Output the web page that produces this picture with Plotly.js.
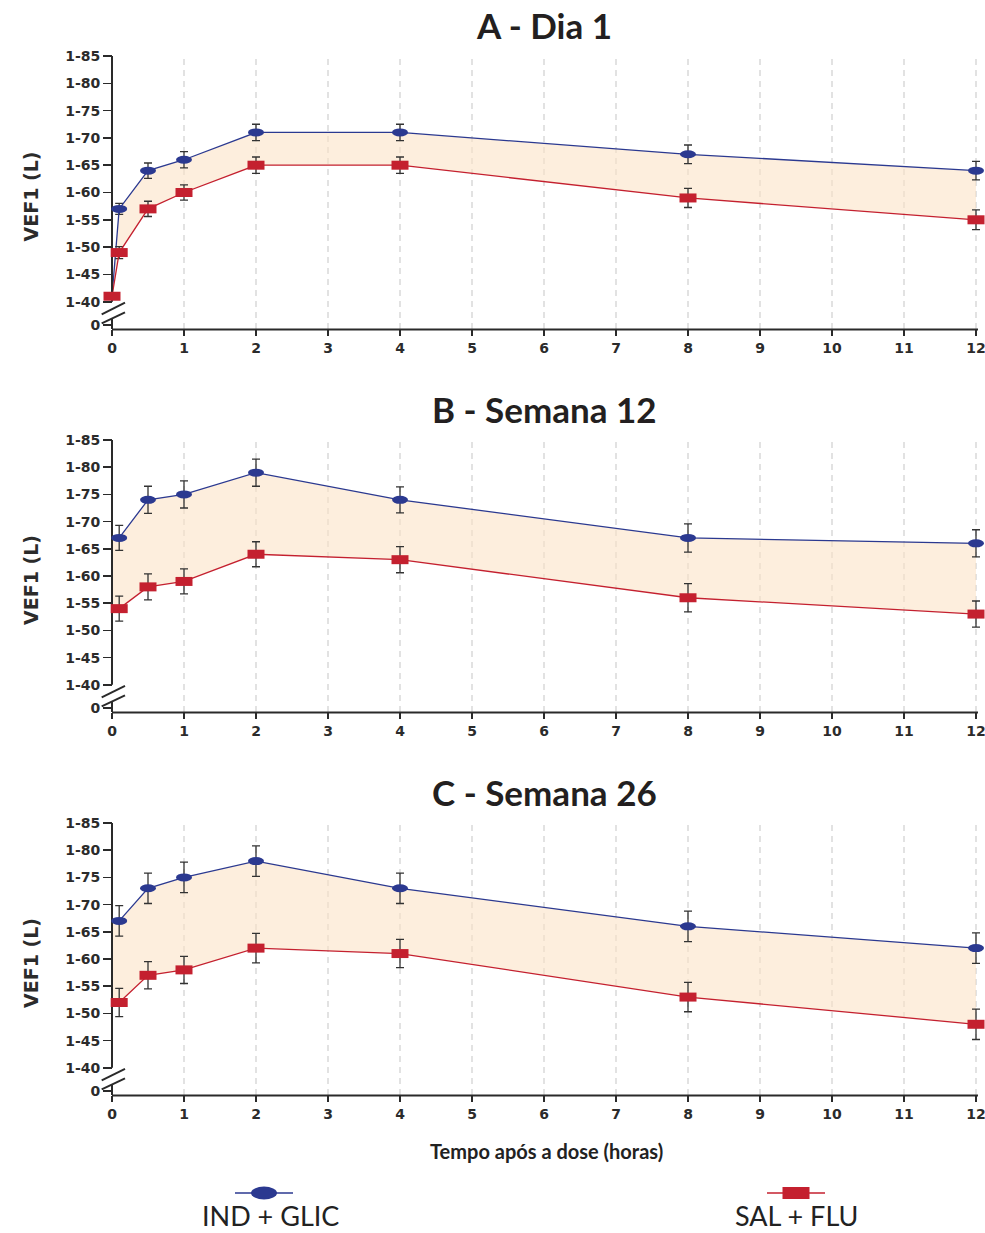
<!DOCTYPE html>
<html><head><meta charset="utf-8">
<script src="https://cdn.plot.ly/plotly-3.0.1.min.js"></script>
<style>html,body{margin:0;padding:0;background:#fff}</style>
</head><body><div id="chart" style="width:985px;height:1233px"></div>
<script>
// ---------- data ----------
const panelTitles = ['A - Dia 1', 'B - Semana 12', 'C - Semana 26'];
const seriesNames = ['IND + GLIC', 'SAL + FLU'];
const xTickVals = [0,1,2,3,4,5,6,7,8,9,10,11,12];
const yTickVals = [1.357, 1.40, 1.45, 1.50, 1.55, 1.60, 1.65, 1.70, 1.75, 1.80, 1.85];
const yTickText = ['0', '1-40', '1-45', '1-50', '1-55', '1-60', '1-65', '1-70', '1-75', '1-80', '1-85'];
const xTitle = 'Tempo após a dose (horas)';
const yTitle = 'VEF1 (L)';

// Panel A - Dia 1 (red series includes the shared pre-dose baseline at t = 0)
const timeA_ind = [0.1, 0.5, 1, 2, 4, 8, 12];
const fevA_ind  = [1.57, 1.64, 1.66, 1.71, 1.71, 1.67, 1.64];
const errA_ind  = [0.010, 0.014, 0.015, 0.015, 0.015, 0.017, 0.017];
const timeA_sal = [0, 0.1, 0.5, 1, 2, 4, 8, 12];
const fevA_sal  = [1.41, 1.49, 1.57, 1.60, 1.65, 1.65, 1.59, 1.55];
const errA_sal  = [0, 0.011, 0.014, 0.014, 0.015, 0.015, 0.0175, 0.018];

// Panel B - Semana 12
const timeB_ind = [0.1, 0.5, 1, 2, 4, 8, 12];
const fevB_ind  = [1.67, 1.74, 1.75, 1.79, 1.74, 1.67, 1.66];
const errB_ind  = [0.023, 0.025, 0.025, 0.025, 0.024, 0.026, 0.025];
const timeB_sal = [0.1, 0.5, 1, 2, 4, 8, 12];
const fevB_sal  = [1.54, 1.58, 1.59, 1.64, 1.63, 1.56, 1.53];
const errB_sal  = [0.023, 0.024, 0.023, 0.023, 0.024, 0.026, 0.024];

// Panel C - Semana 26
const timeC_ind = [0.1, 0.5, 1, 2, 4, 8, 12];
const fevC_ind  = [1.67, 1.73, 1.75, 1.78, 1.73, 1.66, 1.62];
const errC_ind  = [0.028, 0.028, 0.028, 0.028, 0.028, 0.028, 0.028];
const timeC_sal = [0.1, 0.5, 1, 2, 4, 8, 12];
const fevC_sal  = [1.52, 1.57, 1.58, 1.62, 1.61, 1.53, 1.48];
const errC_sal  = [0.026, 0.025, 0.025, 0.027, 0.026, 0.027, 0.028];

// ---------- styling ----------
const BLUE = '#2b3990', RED = '#c4202f', FILL = 'rgba(252,227,198,0.6)', AXIS = '#2a2a2a', TXT = '#2b2b2b';
const W = 985, H = 1233;
const px0 = 112, px12 = 976, pxPerH = (px12 - px0) / 12;
const domL = 101, domR = 985;
const xRange = [(domL - px0) / pxPerH, (domR - px0) / pxPerH];
const panelPix = [[56, 329], [440, 712], [823, 1095]];
const titleY = [25, 409, 792];

const panels = [
  {ti: timeA_ind, vi: fevA_ind, ei: errA_ind, ts: timeA_sal, vs: fevA_sal, es: errA_sal, sharedStart: true},
  {ti: timeB_ind, vi: fevB_ind, ei: errB_ind, ts: timeB_sal, vs: fevB_sal, es: errB_sal, sharedStart: false},
  {ti: timeC_ind, vi: fevC_ind, ei: errC_ind, ts: timeC_sal, vs: fevC_sal, es: errC_sal, sharedStart: false}
];

const data = [], shapes = [], annotations = [];
const layout = {
  width: W, height: H, margin: {l: 0, r: 0, t: 0, b: 0},
  paper_bgcolor: '#fff', plot_bgcolor: 'rgba(0,0,0,0)', showlegend: false,
  font: {family: 'DejaVu Sans', color: TXT}
};
const py = p => 1 - p / H;
const tickFont = {family: 'DejaVu Sans', size: 14, color: TXT, weight: 'bold'};

panels.forEach((p, i) => {
  const k = i === 0 ? '' : String(i + 1);
  const xa = 'x' + k, ya = 'y' + k;
  layout['xaxis' + k] = {
    domain: [domL / W, domR / W], range: xRange, anchor: ya,
    tickmode: 'array', tickvals: xTickVals, ticks: 'outside', ticklen: 6, tickwidth: 1.6, tickcolor: AXIS,
    showline: false, zeroline: false, showgrid: false, ticklabeloverflow: 'allow',
    tickfont: tickFont, fixedrange: true
  };
  layout['yaxis' + k] = {
    domain: [py(panelPix[i][1]), py(panelPix[i][0])], range: [1.35, 1.85], anchor: 'free', position: px0 / W,
    tickmode: 'array', tickvals: yTickVals, ticktext: yTickText,
    ticks: 'outside', ticklen: 9, tickwidth: 1.6, tickcolor: AXIS,
    showline: false, zeroline: false, showgrid: false,
    tickfont: tickFont, fixedrange: true
  };

  // dashed vertical gridlines at each hour after 0
  xTickVals.filter(v => v > 0).forEach(v => shapes.push({
    type: 'line', xref: xa, yref: ya, x0: v, x1: v, y0: 1.35, y1: 1.85, layer: 'below',
    line: {color: '#cfcfcf', width: 1.2, dash: '6px,5px'}
  }));

  // line paths
  let lineIx = p.ti.slice(), lineIy = p.vi.slice();
  if (p.sharedStart) { lineIx.unshift(p.ts[0]); lineIy.unshift(p.vs[0]); }
  // band between the two groups
  let upX = lineIx.slice(), upY = lineIy.slice(), loX = p.ts.slice(), loY = p.vs.slice();
  if (!p.sharedStart) { upX.unshift(0); upY.unshift(p.vi[0]); loX.unshift(0); loY.unshift(p.vs[0]); }
  data.push({
    x: upX.concat(loX.slice().reverse()), y: upY.concat(loY.slice().reverse()),
    xaxis: xa, yaxis: ya, mode: 'lines', fill: 'toself', fillcolor: FILL,
    line: {width: 0, color: 'rgba(0,0,0,0)'}, hoverinfo: 'skip'
  });
  const errI = p.sharedStart ? [0].concat(p.ei) : p.ei;
  data.push({
    x: lineIx, y: lineIy, xaxis: xa, yaxis: ya, mode: 'lines+markers', name: seriesNames[0],
    line: {color: BLUE, width: 1.3}, marker: {size: 2, opacity: 0}, cliponaxis: false,
    error_y: {type: 'data', array: errI, visible: true, color: '#333', thickness: 1.3, width: 4}
  });
  data.push({
    x: p.ts, y: p.vs, xaxis: xa, yaxis: ya, mode: 'lines+markers', name: seriesNames[1],
    line: {color: RED, width: 1.3}, marker: {size: 2, opacity: 0}, cliponaxis: false,
    error_y: {type: 'data', array: p.es, visible: true, color: '#333', thickness: 1.3, width: 4}
  });

  // x axis line
  shapes.push({type: 'line', xref: xa, yref: 'paper', x0: 0, x1: 12 + 2 / pxPerH,
    y0: py(panelPix[i][1] + 0.5), y1: py(panelPix[i][1] + 0.5), line: {color: AXIS, width: 2}});
  // broken y axis
  shapes.push({type: 'line', xref: xa, yref: ya, x0: 0, x1: 0, y0: 1.40, y1: 1.85, line: {color: AXIS, width: 2}});
  shapes.push({type: 'line', xref: xa, yref: ya, x0: 0, x1: 0, y0: 1.35, y1: 1.369, line: {color: AXIS, width: 2}});
  [[-12.6, -1], [-21.6, -10.6]].forEach(s => shapes.push({
    type: 'line', xref: xa, yref: ya, xsizemode: 'pixel', ysizemode: 'pixel',
    xanchor: 0, yanchor: 1.40, x0: -10.3, x1: 13, y0: s[0], y1: s[1], line: {color: AXIS, width: 2}
  }));

  // markers: ellipses (IND + GLIC) and rectangles (SAL + FLU)
  p.ti.forEach((t, j) => shapes.push({
    type: 'circle', xref: xa, yref: ya, xsizemode: 'pixel', ysizemode: 'pixel',
    xanchor: t, yanchor: p.vi[j], x0: -8, x1: 8, y0: -4, y1: 4,
    fillcolor: BLUE, line: {width: 0}, layer: 'above'
  }));
  p.ts.forEach((t, j) => shapes.push({
    type: 'rect', xref: xa, yref: ya, xsizemode: 'pixel', ysizemode: 'pixel',
    xanchor: t, yanchor: p.vs[j], x0: -8.5, x1: 8.5, y0: -4.5, y1: 4.5,
    fillcolor: RED, line: {width: 0}, layer: 'above'
  }));

  annotations.push({
    text: panelTitles[i], xref: 'paper', yref: 'paper', x: 544 / W, y: py(titleY[i]),
    xanchor: 'center', yanchor: 'middle', showarrow: false,
    font: {family: 'Lato', size: 35, color: '#231f20', weight: 'bold'}
  });
  annotations.push({
    text: yTitle, xref: 'paper', yref: 'paper', x: 31 / W, y: py((panelPix[i][0] + panelPix[i][1]) / 2 + 4),
    xanchor: 'center', yanchor: 'middle', showarrow: false, textangle: -90,
    font: {family: 'DejaVu Sans', size: 19, color: TXT, weight: 'bold'}
  });
});

annotations.push({
  text: xTitle, xref: 'paper', yref: 'paper', x: 546 / W, y: py(1151),
  xanchor: 'center', yanchor: 'middle', showarrow: false,
  font: {family: 'Lato', size: 20, color: '#222', weight: 'bold'}
});

// legend drawn at the bottom
const legend = [
  {name: seriesNames[0], color: BLUE, cx: 264, tx: 270, kind: 'circle', hw: 13, hh: 6.5},
  {name: seriesNames[1], color: RED, cx: 796, tx: 796, kind: 'rect', hw: 13.5, hh: 6}
];
legend.forEach(l => {
  shapes.push({type: 'line', xref: 'paper', yref: 'paper', x0: (l.cx - 29) / W, x1: (l.cx + 29) / W,
    y0: py(1193), y1: py(1193), line: {color: l.color, width: 1.5}});
  shapes.push({type: l.kind, xref: 'paper', yref: 'paper', x0: (l.cx - l.hw) / W, x1: (l.cx + l.hw) / W,
    y0: py(1193 + l.hh), y1: py(1193 - l.hh), fillcolor: l.color, line: {width: 0}});
  annotations.push({text: l.name, xref: 'paper', yref: 'paper', x: l.tx / W, y: py(1232.5),
    xanchor: 'center', yanchor: 'bottom', showarrow: false, borderpad: 0,
    font: {family: 'Lato', size: 27, color: '#222'}});
});

layout.shapes = shapes;
layout.annotations = annotations;
Plotly.newPlot('chart', data, layout, {displayModeBar: false, staticPlot: true});
</script></body></html>
